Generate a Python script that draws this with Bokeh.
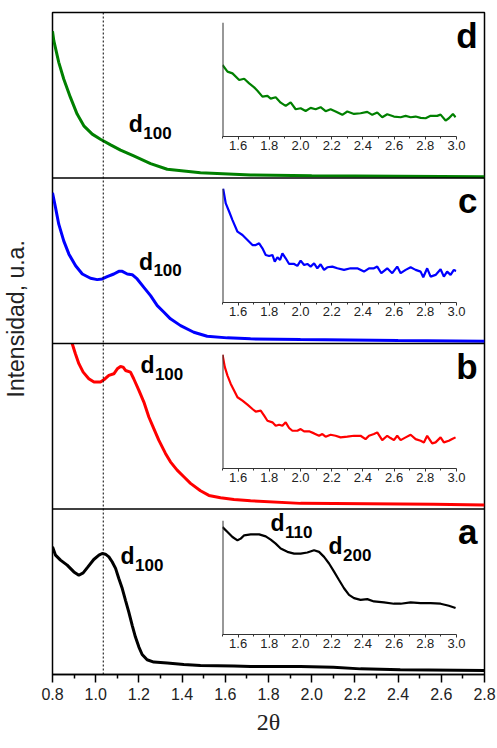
import math
from bokeh.plotting import figure
from bokeh.models import (Range1d, Span, Label, Title, FixedTicker, NumeralTickFormatter)
from bokeh.layouts import column
from bokeh.embed import file_html
from bokeh.resources import INLINE

# ---------------- data ----------------
# main panels, x = 2theta, y = intensity in panel units (0..100)
d_x = [0.800, 0.806, 0.829, 0.852, 0.883, 0.914, 0.945, 0.984, 1.022, 1.069, 1.115, 1.176,
       1.254, 1.331, 1.485, 1.717, 2.000, 2.400, 2.800]
d_y = [88.7, 83.0, 69.9, 59.8, 48.7, 38.6, 31.5, 26.5, 23.4, 20.0, 16.8, 13.3,
       8.7, 5.3, 3.2, 1.8, 1.3, 1.0, 0.8]

c_x = [0.800, 0.814, 0.829, 0.852, 0.876, 0.907, 0.938, 0.976, 1.007, 1.030, 1.053, 1.084,
       1.107, 1.123, 1.146, 1.169, 1.192, 1.223, 1.254, 1.285, 1.316, 1.346, 1.393, 1.454,
       1.516, 1.609, 1.717, 1.948, 2.400, 2.800]
c_y = [91.1, 82.1, 72.1, 62.0, 54.0, 47.0, 42.0, 39.4, 38.6, 39.0, 40.4, 42.0,
       43.6, 43.6, 42.0, 41.6, 39.0, 33.9, 28.9, 22.9, 18.9, 14.9, 10.8, 6.8,
       4.4, 3.4, 2.8, 2.4, 1.8, 1.4]

b_x = [0.891, 0.906, 0.922, 0.942, 0.968, 0.992, 1.022, 1.038, 1.061, 1.084, 1.100, 1.115,
       1.127, 1.138, 1.161, 1.176, 1.200, 1.223, 1.246, 1.269, 1.292, 1.323, 1.346, 1.377,
       1.408, 1.439, 1.485, 1.524, 1.578, 1.640, 1.717, 1.948, 2.257, 2.564, 2.800]
b_y = [100.0, 93.8, 87.8, 82.7, 78.7, 76.7, 76.7, 78.1, 80.7, 81.7, 84.7, 86.1,
       85.7, 83.7, 82.7, 78.7, 71.7, 64.6, 55.6, 48.6, 41.6, 33.6, 28.5, 23.5,
       19.5, 15.5, 11.0, 8.2, 6.8, 5.8, 5.0, 3.4, 3.2, 2.8, 2.4]

a_x = [0.800, 0.814, 0.837, 0.868, 0.899, 0.922, 0.942, 0.964, 0.991, 1.015, 1.030, 1.045,
       1.061, 1.076, 1.092, 1.107, 1.123, 1.138, 1.153, 1.169, 1.184, 1.200, 1.215, 1.238,
       1.269, 1.331, 1.408, 1.485, 1.640, 1.717, 1.948, 2.100, 2.226, 2.410, 2.800]
a_y = [77.2, 72.1, 69.1, 66.1, 62.0, 60.0, 61.4, 65.0, 69.5, 72.1, 73.1, 72.7,
       71.1, 68.1, 64.1, 58.0, 51.9, 44.8, 37.8, 29.7, 22.6, 16.6, 12.1, 8.9,
       7.5, 6.9, 6.1, 5.5, 5.1, 4.8, 4.8, 4.4, 3.4, 2.8, 2.4]

# insets (x 1.5..3.0, y in inset units 0..100)
di_x = [1.500, 1.532, 1.564, 1.607, 1.639, 1.671, 1.703, 1.724, 1.756, 1.788, 1.809, 1.841,
        1.873, 1.905, 1.937, 1.969, 2.001, 2.033, 2.065, 2.097, 2.129, 2.161, 2.193, 2.225,
        2.268, 2.300, 2.343, 2.385, 2.428, 2.460, 2.492, 2.524, 2.556, 2.599, 2.642, 2.674,
        2.706, 2.738, 2.770, 2.802, 2.834, 2.876, 2.898, 2.930, 2.951, 2.977, 2.994]
di_y = [62.7, 56.9, 55.4, 49.6, 50.7, 46.6, 43.1, 40.2, 35.0, 35.6, 33.2, 34.4,
        29.7, 26.8, 30.0, 23.9, 24.8, 22.4, 25.1, 23.9, 25.7, 22.2, 23.9, 21.9,
        19.0, 21.9, 19.8, 20.4, 21.6, 19.0, 21.0, 16.9, 19.5, 17.5, 16.9, 18.1,
        16.9, 17.5, 16.3, 16.0, 18.1, 18.1, 19.2, 14.0, 16.0, 19.8, 16.9]

ci_x = [1.504, 1.521, 1.543, 1.564, 1.596, 1.628, 1.660, 1.692, 1.713, 1.735, 1.756, 1.777,
        1.799, 1.820, 1.835, 1.852, 1.869, 1.884, 1.905, 1.927, 1.959, 1.980, 2.001, 2.023,
        2.044, 2.065, 2.087, 2.108, 2.129, 2.151, 2.172, 2.204, 2.236, 2.279, 2.321, 2.364,
        2.407, 2.439, 2.471, 2.492, 2.518, 2.556, 2.588, 2.620, 2.642, 2.674, 2.706, 2.738,
        2.770, 2.787, 2.812, 2.834, 2.866, 2.898, 2.919, 2.940, 2.962, 2.983, 2.998]
ci_y = [100.0, 86.9, 79.6, 72.3, 62.1, 59.2, 54.8, 50.4, 50.4, 51.9, 47.5, 41.7,
        40.8, 41.7, 35.9, 39.7, 37.3, 43.1, 38.8, 33.8, 33.8, 32.1, 36.7, 32.9,
        33.8, 31.5, 34.4, 30.0, 33.5, 28.6, 30.9, 31.5, 30.0, 28.6, 30.0, 30.0,
        27.1, 30.0, 30.0, 31.5, 25.7, 30.0, 25.7, 31.5, 25.7, 28.6, 30.9, 28.6,
        27.1, 22.2, 30.0, 22.7, 24.2, 29.2, 22.7, 27.1, 24.2, 28.6, 27.7]

bi_x = [1.500, 1.515, 1.532, 1.553, 1.575, 1.596, 1.628, 1.660, 1.692, 1.713, 1.745, 1.767,
        1.788, 1.820, 1.841, 1.863, 1.884, 1.905, 1.927, 1.948, 1.980, 2.001, 2.023, 2.055,
        2.087, 2.119, 2.140, 2.161, 2.193, 2.225, 2.257, 2.300, 2.343, 2.385, 2.417, 2.439,
        2.471, 2.492, 2.524, 2.556, 2.577, 2.599, 2.620, 2.642, 2.674, 2.706, 2.738, 2.770,
        2.791, 2.812, 2.844, 2.866, 2.898, 2.919, 2.951, 2.972, 2.994]
bi_y = [100.0, 88.9, 81.5, 74.2, 68.3, 62.5, 59.5, 56.0, 52.2, 49.9, 50.7, 46.3,
        41.9, 40.5, 37.5, 38.4, 37.5, 40.5, 35.5, 33.1, 33.1, 34.6, 32.6, 32.6,
        30.8, 28.7, 30.2, 27.9, 29.6, 28.7, 27.3, 27.9, 28.7, 28.7, 25.8, 28.7,
        30.2, 31.7, 24.9, 28.7, 26.7, 24.9, 28.7, 24.9, 27.3, 29.6, 25.8, 24.3,
        22.9, 28.7, 22.0, 22.9, 27.3, 22.9, 24.3, 25.8, 27.3]

ai_x = [1.500, 1.532, 1.564, 1.596, 1.617, 1.639, 1.681, 1.735, 1.777, 1.809, 1.841, 1.873,
        1.916, 1.959, 2.001, 2.044, 2.087, 2.119, 2.151, 2.183, 2.215, 2.247, 2.279, 2.311,
        2.343, 2.385, 2.428, 2.471, 2.535, 2.599, 2.642, 2.706, 2.770, 2.834, 2.898, 2.951,
        2.994]
ai_y = [94.2, 89.9, 85.5, 82.6, 84.1, 87.0, 87.8, 87.8, 86.1, 83.2, 79.7, 75.4,
        72.5, 71.0, 71.0, 71.9, 73.9, 72.5, 68.1, 62.3, 55.1, 47.8, 40.6, 34.8,
        31.9, 30.4, 31.0, 29.0, 28.1, 27.0, 27.0, 28.1, 27.5, 27.5, 27.0, 25.2,
        23.2]

main_ticks = [0.8, 1.0, 1.2, 1.4, 1.6, 1.8, 2.0, 2.2, 2.4, 2.6, 2.8]
main_minor = [0.9, 1.1, 1.3, 1.5, 1.7, 1.9, 2.1, 2.3, 2.5, 2.7]
inset_ticks = [1.6, 1.8, 2.0, 2.2, 2.4, 2.6, 2.8, 3.0]
inset_minor = [1.5, 1.7, 1.9, 2.1, 2.3, 2.5, 2.7, 2.9]

panel_names = ["d", "c", "b", "a"]
panel_colors = ["#008000", "#0000ff", "#ff0000", "#000000"]
main_x = [d_x, c_x, b_x, a_x]
main_y = [d_y, c_y, b_y, a_y]
inset_x = [di_x, ci_x, bi_x, ai_x]
inset_y = [di_y, ci_y, bi_y, ai_y]
# peak labels: (panel, subscript, x, y-middle of the "d" glyph in panel units)
peak_labels = [("d", "100", 1.153, 32.5), ("c", "100", 1.200, 49.4),
               ("b", "100", 1.207, 87.1), ("a", "100", 1.115, 71.6),
               ("a", "110", 1.809, 91.5), ("a", "200", 2.078, 77.6)]

SANS = "Liberation Sans"
SERIF = "Liberation Serif"

# ---------------- main figure ----------------
p = figure(width=497, height=748, x_range=Range1d(0.8, 2.8), y_range=Range1d(0, 400),
           output_backend="svg", toolbar_location=None,
           min_border_left=52, min_border_right=13, min_border_top=12, min_border_bottom=74)
p.grid.visible = False
p.background_fill_color = "white"
p.outline_line_color = "black"
p.outline_line_width = 1.5

# left axis: no ticks, used only to keep the rotated title off the frame
ya = p.yaxis[0]
ya.ticker = FixedTicker(ticks=[])
ya.axis_line_color = None
ya.major_tick_out = 0
ya.major_tick_in = 0
ya.minor_tick_out = 0
ya.minor_tick_in = 0
ya.major_label_standoff = 0
ya.axis_label = " "
ya.axis_label_text_font_size = "10px"
ya.axis_label_standoff = 9

xa = p.xaxis[0]
xa.ticker = FixedTicker(ticks=main_ticks, minor_ticks=main_minor)
xa.formatter = NumeralTickFormatter(format="0.0")
xa.major_tick_out = 8
xa.major_tick_in = 0
xa.minor_tick_out = 4
xa.minor_tick_in = 0
xa.major_tick_line_width = 1.5
xa.minor_tick_line_width = 1.5
xa.axis_line_width = 1.5
xa.major_label_text_font = SANS
xa.major_label_text_font_size = "16px"
xa.major_label_text_color = "#222222"
xa.major_label_standoff = 5
xa.axis_label = "2θ"
xa.axis_label_text_font = SERIF
xa.axis_label_text_font_size = "24px"
xa.axis_label_text_font_style = "normal"
xa.axis_label_text_color = "#222222"
xa.axis_label_standoff = 6

p.add_layout(Title(text="Intensidad, u.a.", align="left", offset=277,
                   vertical_align="middle", standoff=0, text_font=SANS,
                   text_font_size="23px", text_font_style="normal",
                   text_color="#222222"), "left")

for i, name in enumerate(panel_names):
    k = 3 - i
    rname = "panel_" + name
    p.extra_y_ranges[rname] = Range1d(start=-100 * k, end=400 - 100 * k)
    p.line(main_x[i], main_y[i], line_color=panel_colors[i], line_width=3,
           y_range_name=rname)
    if k > 0:
        p.add_layout(Span(location=100 * k, dimension="width", line_color="black",
                          line_width=1.5))
    p.add_layout(Label(x=2.768, y=86.2, y_range_name=rname, text=name, text_align="right",
                       text_baseline="middle", text_font=SANS, text_font_size="35px",
                       text_font_style="bold", text_color="black"))

for panel, sub, lx, ly in peak_labels:
    rname = "panel_" + panel
    p.add_layout(Label(x=lx, y=ly, y_range_name=rname, text="d", text_font=SANS,
                       text_font_size="23px", text_font_style="bold",
                       text_baseline="middle", text_color="black"))
    p.add_layout(Label(x=lx, y=ly, y_range_name=rname, text=sub, x_offset=14.5,
                       y_offset=-8.7, text_font=SANS, text_font_size="17px",
                       text_font_style="bold", text_baseline="middle", text_color="black"))

p.add_layout(Span(location=1.035, dimension="height", line_color="black", line_width=1,
                  line_dash="2 2"))

# ---------------- insets ----------------
inset_tops = [14, 180, 346, 512]
insets = []
for i, name in enumerate(panel_names):
    f = figure(width=52 + 234 + 13, height=8 + 114 + 26, x_range=Range1d(1.5, 3.0),
               y_range=Range1d(0, 100), output_backend="svg", toolbar_location=None,
               y_axis_location=None,
               min_border_left=52, min_border_right=13, min_border_top=8,
               min_border_bottom=26)
    f.background_fill_alpha = 0
    f.border_fill_alpha = 0
    f.outline_line_color = None
    f.grid.visible = False
    f.line(inset_x[i], inset_y[i], line_color=panel_colors[i], line_width=2.2)
    f.add_layout(Span(location=1.5, dimension="height", line_color="#333333",
                      line_width=2))
    ax = f.xaxis[0]
    ax.ticker = FixedTicker(ticks=inset_ticks, minor_ticks=inset_minor)
    ax.formatter = NumeralTickFormatter(format="0.0")
    ax.major_tick_out = 3
    ax.major_tick_in = 0
    ax.minor_tick_out = 2
    ax.minor_tick_in = 0
    ax.axis_line_color = "#333333"
    ax.major_tick_line_color = "#333333"
    ax.minor_tick_line_color = "#333333"
    ax.major_label_text_font = SANS
    ax.major_label_text_font_size = "13px"
    ax.major_label_text_color = "#222222"
    ax.major_label_standoff = 1
    f.styles = {"position": "absolute", "left": "170px", "top": f"{inset_tops[i]}px"}
    insets.append(f)

root = column(p, *insets)
open("out.html", "w").write(file_html(root, INLINE))
